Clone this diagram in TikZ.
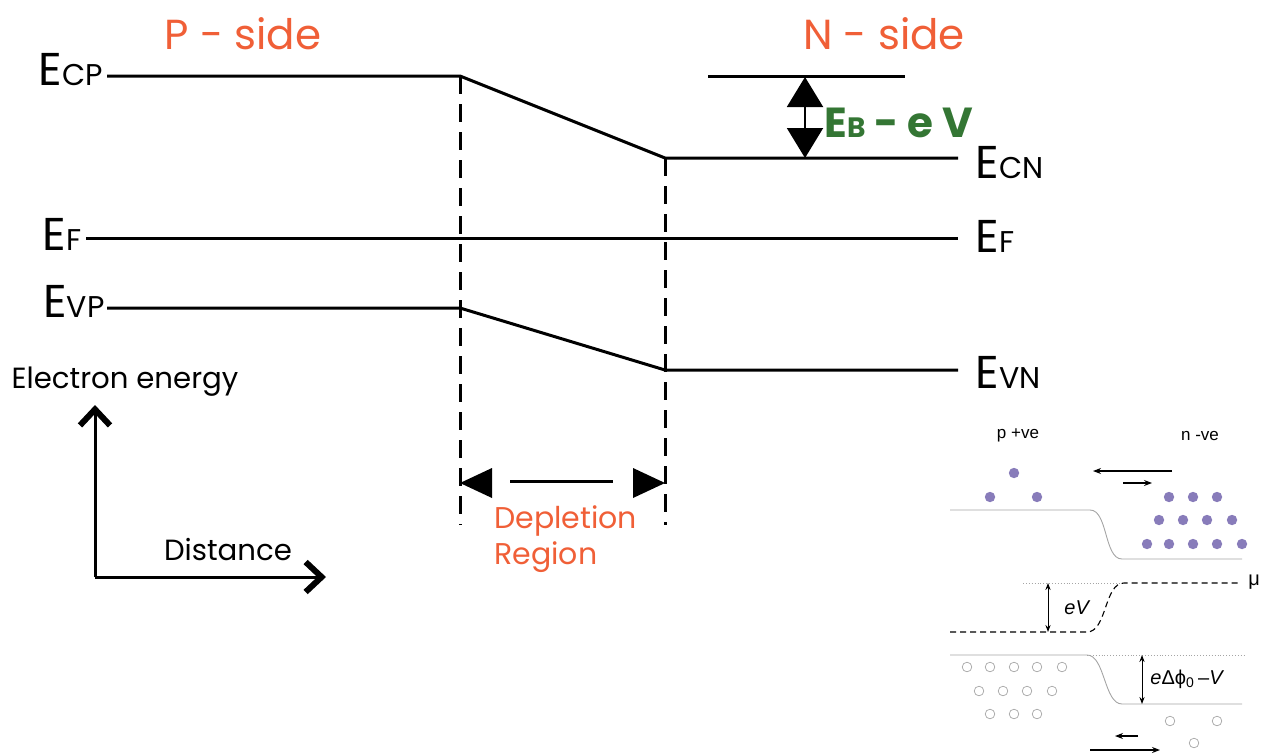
\documentclass[tikz,border=0pt]{standalone}
\usepackage{fontspec}
\setmainfont{Poppins}
\newfontfamily\insetfont{Liberation Sans}
\usetikzlibrary{arrows.meta,positioning}

\definecolor{sideorange}{RGB}{240,95,55}
\definecolor{gapgreen}{RGB}{52,118,52}
\definecolor{carrier}{RGB}{136,124,186}
\definecolor{holegray}{RGB}{165,165,165}

% level label: big E with small letters on the same baseline
\newcommand{\lvl}[1]{E{\fontsize{15}{15}\selectfont #1}}

\begin{document}
\begin{tikzpicture}[x=0.5pt,y=-0.5pt,
  band/.style={line width=1.5pt},
  edge/.style={line width=1.5pt, dash pattern=on 9pt off 5pt},
  lvltext/.style={font=\fontsize{23}{24}\selectfont, inner sep=0pt},
  side/.style={font=\fontsize{21}{22}\selectfont, text=sideorange, inner sep=0pt},
  axis/.style={line width=1.5pt, -{Straight Barb[length=8pt,width=15pt,line width=3pt]}},
  thin/.style={line width=0.45pt, holegray},
  small/.style={font=\insetfont\fontsize{8.5}{9}\selectfont, inner sep=1pt},
  harr/.style={line width=0.6pt, -{Stealth[length=4pt,width=3pt]}},
  varr/.style={line width=0.5pt, {Stealth[length=3.5pt,width=2.6pt]}-{Stealth[length=3.5pt,width=2.6pt]}},
  dot/.style={circle, fill=carrier, inner sep=0pt, minimum size=5.2pt},
  hole/.style={circle, draw=holegray, line width=0.35pt, inner sep=0pt, minimum size=4.8pt}
]
\useasboundingbox (0,0) rectangle (1268,755);

%--------------------------------------------------
% band edges
%--------------------------------------------------
\coordinate (cp0) at (107,76);
\coordinate (cp1) at (460,76);
\coordinate (cn0) at (665,158);
\coordinate (cn1) at (958,158);
\coordinate (vp0) at (107,308);
\coordinate (vp1) at (460,308);
\coordinate (vn0) at (665,370);
\coordinate (vn1) at (958,370);
\coordinate (f0) at (86,238);
\coordinate (f1) at (958,238);

\draw[band] (cp0) -- (cp1) -- (cn0) -- (cn1);
\draw[band] (vp0) -- (vp1) -- (vn0) -- (vn1);
\draw[band] (f0) -- (f1);

% unbent conduction edge on the n side
\coordinate (nt0) at (708,76);
\coordinate (nt1) at (905,76);
\draw[band] (nt0) -- (nt1);

% depletion boundaries
\coordinate (dl) at (460,525);
\coordinate (dr) at (665,525);
\draw[edge] (cp1) -- (dl);
\draw[edge] (cn0) -- (dr);

%--------------------------------------------------
% labels
%--------------------------------------------------
\node[side] (pside) at (243,34) {P - side};
\node[side] (nside) at (884,34) {N - side};

\node[lvltext, anchor=base east] (lcp) at (103,85) {\lvl{CP}};
\node[lvltext, anchor=base east] (lf) at (82,250) {\lvl{F}};
\node[lvltext, anchor=base east] (lvp) at (105,317) {\lvl{VP}};
\node[lvltext, anchor=base west] (rcn) at (975,178) {\lvl{CN}};
\node[lvltext, anchor=base west] (rf) at (975,252) {\lvl{F}};
\node[lvltext, anchor=base west] (rvn) at (975,388) {\lvl{VN}};

% barrier height
\coordinate (bt) at (805,77);
\coordinate (bb) at (805,158);
\draw[line width=1pt, {Triangle[length=15pt,width=18pt]}-{Triangle[length=15pt,width=18pt]}] (bt) -- (bb);
\node[font=\bfseries\fontsize{21}{22}\selectfont, text=gapgreen, anchor=base west, inner sep=0pt]
  (gap) at (824,137) {E{\fontsize{14}{14}\selectfont B} - e V};

% depletion width
\coordinate (wl) at (460,483);
\coordinate (wr) at (665,483);
\fill (wl) -- ++(32,-15) -- ++(0,30) -- cycle;
\fill (wr) -- ++(-32,-15) -- ++(0,30) -- cycle;
\draw[line width=1.5pt] (510,481) -- (613,481);
\node[side, font=\fontsize{15}{18}\selectfont, align=left, anchor=north west] (dep) at (494,505) {Depletion\\Region};

%--------------------------------------------------
% axes
%--------------------------------------------------
\coordinate (ax) at (95,577);
\draw[axis] (ax) -- (95,405);
\draw[axis] (ax) -- (326,577);
\node[font=\fontsize{14.6}{15}\selectfont, inner sep=0pt] (yl) at (125,382) {Electron energy};
\node[font=\fontsize{14.6}{15}\selectfont, inner sep=0pt] (xl) at (228,550) {Distance};

%--------------------------------------------------
% inset: junction under bias
%--------------------------------------------------
\node[small] (pv) at (1018,435) {p +ve};
\node[small] (nv) at (1200,436) {n -ve};

% electrons
\foreach \x/\y in {1014/473, 990/497, 1037/497,
  1169/497, 1193/497, 1217/497,
  1159/520, 1183/520, 1207/520, 1232/520,
  1147/544, 1169/544, 1193/544, 1217/544, 1242/544}
  \node[dot] at (\x,\y) {};

% holes
\foreach \x/\y in {967/667, 990/667, 1014/667, 1037/667, 1062/667,
  979/691, 1003/691, 1027/691, 1052/691,
  990/714, 1014/714, 1037/714,
  1170/721, 1217/721, 1194/743}
  \node[hole] at (\x,\y) {};

% conduction and valence edges
\draw[thin] (950,510) -- (1090,510) .. controls (1108,510) and (1104,559) .. (1122,559) -- (1242,559);
\draw[thin] (950,655) -- (1087,655) .. controls (1105,655) and (1104,704) .. (1122,704) -- (1242,704);
\draw[thin, densely dotted, line width=0.3pt] (1023,583) -- (1122,583);
\draw[thin, densely dotted, line width=0.3pt] (1087,655) -- (1245,655);

% chemical potential
\coordinate (mu0) at (950,632);
\coordinate (mu1) at (1240,583);
\draw[line width=0.55pt, dash pattern=on 3pt off 2pt] (mu0) -- (1087,632) .. controls (1107,632) and (1104,583) .. (1124,583) -- (mu1);
\node[small, anchor=west, font=\insetfont\fontsize{10}{10}\selectfont] (mu) at (1246,582) {μ};

\draw[varr] (1048,583) -- (1048,632);
\node[small, anchor=west, font=\insetfont\fontsize{10}{10}\selectfont] (ev) at (1062,608) {\itshape eV};
\draw[varr] (1142,655) -- (1142,704);
\node[small, anchor=west, font=\insetfont\fontsize{10}{10}\selectfont] (eb) at (1148,679)
  {{\itshape e}Δϕ\textsubscript{0}\,–{\itshape V}};

% currents
\draw[harr] (1172,471) -- (1093,471);
\draw[harr] (1123,483) -- (1152,483);
\draw[harr] (1138,736) -- (1115,736);
\draw[harr] (1090,750) -- (1160,750);

\end{tikzpicture}
\end{document}
